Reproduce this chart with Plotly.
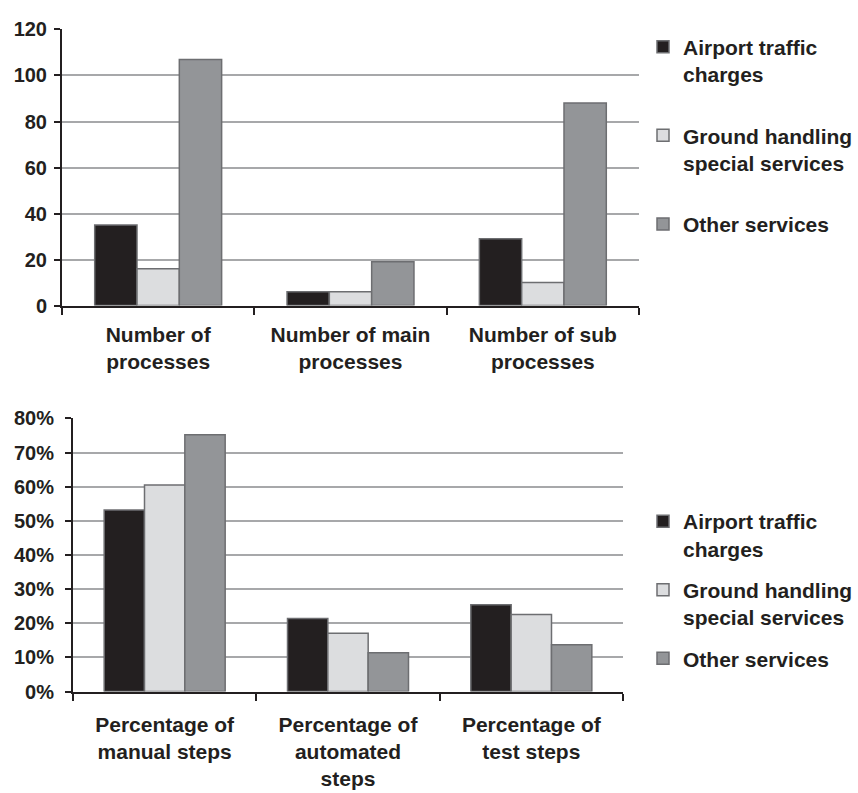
import plotly.graph_objects as go

# Category labels
count_categories = ["Number of<br>processes", "Number of main<br>processes", "Number of sub<br>processes"]
pct_categories = ["Percentage of<br>manual steps", "Percentage of<br>automated<br>steps", "Percentage of<br>test steps"]

series_names = ["Airport traffic<br>charges", "Ground handling<br>special services", "Other services"]

# Counts per service type
airport_counts = [35, 6, 29]
ground_counts = [16, 6, 10]
other_counts = [107, 19, 88]

# Share of step types per service type (%)
airport_pct = [53.2, 21.4, 25.4]
ground_pct = [60.5, 17.1, 22.6]
other_pct = [75.2, 11.4, 13.7]

# Tick labels
count_ticks = [0, 20, 40, 60, 80, 100, 120]
pct_ticks = [0, 10, 20, 30, 40, 50, 60, 70, 80]

colors = ["#231f20", "#dcdddf", "#939598"]
edge = "#6d6e71"
ink = "#231f20"
FONT = "Liberation Sans"

W, H = 858, 793

def px_x(a, b):
    return [a / W, b / W]

def px_y(top, bottom):
    return [1 - bottom / H, 1 - top / H]

fig = go.Figure()

for i, (name, vals) in enumerate(zip(series_names, [airport_counts, ground_counts, other_counts])):
    fig.add_trace(go.Bar(
        x=count_categories, y=vals, name=name,
        marker=dict(color=colors[i], line=dict(color=edge, width=1.5)),
        xaxis="x", yaxis="y", legend="legend", legendgroup=f"a{i}",
    ))

for i, (name, vals) in enumerate(zip(series_names, [airport_pct, ground_pct, other_pct])):
    fig.add_trace(go.Bar(
        x=pct_categories, y=vals, name=name,
        marker=dict(color=colors[i], line=dict(color=edge, width=1.5)),
        xaxis="x2", yaxis="y2", legend="legend2", legendgroup=f"b{i}",
    ))

tickfont = dict(family=FONT, size=20, color=ink, weight="bold")

xcommon = dict(
    type="category", showline=True, linecolor=ink, linewidth=2,
    ticks="outside", tickson="boundaries", ticklen=7, tickwidth=1.5, tickcolor=ink,
    showgrid=False, tickfont=dict(family=FONT, size=21, color=ink, weight="bold"),
    fixedrange=True,
)
ycommon = dict(
    showline=True, linecolor=ink, linewidth=2,
    ticks="outside", ticklen=6, tickwidth=1.5, tickcolor=ink,
    showgrid=True, gridcolor="#a7a8aa", gridwidth=1.5, zeroline=False,
    tickfont=tickfont, fixedrange=True,
)

legend_common = dict(
    xanchor="left", yanchor="top", valign="top",
    font=dict(family=FONT, size=21, color=ink, weight="bold"),
    bgcolor="rgba(0,0,0,0)", traceorder="grouped",
)

fig.update_layout(
    width=W, height=H,
    margin=dict(l=0, r=0, t=0, b=0),
    paper_bgcolor="white", plot_bgcolor="white",
    barmode="group", bargap=0.34, bargroupgap=0,
    xaxis=dict(xcommon, domain=px_x(62, 639), anchor="y", ticklabelstandoff=9),
    yaxis=dict(ycommon, domain=px_y(19, 303), anchor="x", range=[0, 120],
               tickvals=count_ticks, ticklabelstandoff=3),
    xaxis2=dict(xcommon, domain=px_x(73, 623), anchor="y2", ticklabelstandoff=13),
    yaxis2=dict(ycommon, domain=px_y(419, 700), anchor="x2", range=[0, 80],
                tickvals=pct_ticks, ticktext=[f"{v}%" for v in pct_ticks],
                ticklabelstandoff=7),
    legend=dict(legend_common, x=643 / W, y=1 - 16 / H, tracegroupgap=31),
    legend2=dict(legend_common, x=643 / W, y=1 - 504 / H, tracegroupgap=11),
    showlegend=True,
)

fig.write_html("out.html")
